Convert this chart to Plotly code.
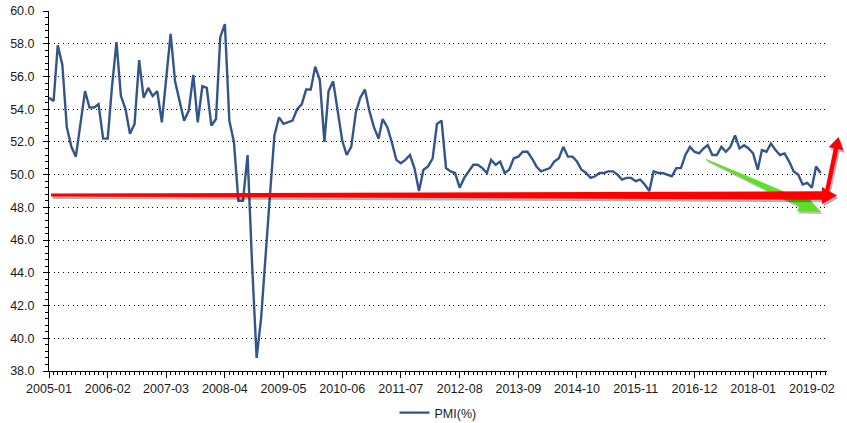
import math
import pandas as pd
import plotly.graph_objects as go

# ---------------- data (China manufacturing PMI, %) ----------------
pmi_2005 = [54.7, 54.5, 57.9, 56.7, 52.9, 51.7, 51.1, 53.1, 55.1, 54.1, 54.1, 54.3]
pmi_2006 = [52.2, 52.2, 55.3, 58.1, 54.8, 54.0, 52.5, 53.1, 57.0, 54.7, 55.3, 54.8]
pmi_2007 = [55.1, 53.2, 55.6, 58.6, 55.7, 54.5, 53.3, 53.9, 56.1, 53.2, 55.4, 55.3]
pmi_2008 = [53.0, 53.4, 58.4, 59.2, 53.3, 52.0, 48.4, 48.4, 51.2, 44.6, 38.8, 41.2]
pmi_2009 = [45.3, 49.0, 52.4, 53.5, 53.1, 53.2, 53.3, 54.0, 54.3, 55.2, 55.2, 56.6]
pmi_2010 = [55.8, 52.0, 55.1, 55.7, 53.9, 52.1, 51.2, 51.7, 53.8, 54.7, 55.2, 53.9]
pmi_2011 = [52.9, 52.2, 53.4, 52.9, 52.0, 50.9, 50.7, 50.9, 51.2, 50.4, 49.0, 50.3]
pmi_2012 = [50.5, 51.0, 53.1, 53.3, 50.4, 50.2, 50.1, 49.2, 49.8, 50.2, 50.6, 50.6]
pmi_2013 = [50.4, 50.1, 50.9, 50.6, 50.8, 50.1, 50.3, 51.0, 51.1, 51.4, 51.4, 51.0]
pmi_2014 = [50.5, 50.2, 50.3, 50.4, 50.8, 51.0, 51.7, 51.1, 51.1, 50.8, 50.3, 50.1]
pmi_2015 = [49.8, 49.9, 50.1, 50.1, 50.2, 50.2, 50.0, 49.7, 49.8, 49.8, 49.6, 49.7]
pmi_2016 = [49.4, 49.0, 50.2, 50.1, 50.1, 50.0, 49.9, 50.4, 50.4, 51.2, 51.7, 51.4]
pmi_2017 = [51.3, 51.6, 51.8, 51.2, 51.2, 51.7, 51.4, 51.7, 52.4, 51.6, 51.8, 51.6]
pmi_2018 = [51.3, 50.3, 51.5, 51.4, 51.9, 51.5, 51.2, 51.3, 50.8, 50.2, 50.0, 49.4]
pmi_2019 = [49.5, 49.2, 50.5, 50.1]

pmi = (pmi_2005 + pmi_2006 + pmi_2007 + pmi_2008 + pmi_2009 + pmi_2010 + pmi_2011
       + pmi_2012 + pmi_2013 + pmi_2014 + pmi_2015 + pmi_2016 + pmi_2017 + pmi_2018 + pmi_2019)
first_month = "2005-01-01"
months = pd.date_range(first_month, periods=len(pmi), freq="MS")
series_name = "PMI(%)"

# ---------------- layout geometry ----------------
W, H = 847, 423
M_L, M_R, M_T, M_B = 49, 20, 11, 52
PL, PR, PT, PB = M_L, W - M_R, M_T, H - M_B

FONT = "Liberation Sans, Arial, sans-serif"
LINE_COLOR = "#34558b"


def to_paper(x, y):
    return (x - PL) / (PR - PL), (PB - y) / (PB - PT)


def arrow_pts(x0, y0, x1, y1, w0, w1, head_len, head_w):
    dx, dy = x1 - x0, y1 - y0
    L = math.hypot(dx, dy)
    ux, uy = dx / L, dy / L
    nx, ny = -uy, ux
    bx, by = x1 - ux * head_len, y1 - uy * head_len
    return [
        (x0 + nx * w0, y0 + ny * w0),
        (bx + nx * w1, by + ny * w1),
        (bx + nx * head_w, by + ny * head_w),
        (x1, y1),
        (bx - nx * head_w, by - ny * head_w),
        (bx - nx * w1, by - ny * w1),
        (x0 - nx * w0, y0 - ny * w0),
    ]


def path_of(pts, ox=0.0, oy=0.0):
    segs = []
    for i, (x, y) in enumerate(pts):
        px, py = to_paper(x + ox, y + oy)
        segs.append(("M" if i == 0 else "L") + f"{px:.5f},{py:.5f}")
    return " ".join(segs) + " Z"


green_arrow = arrow_pts(706, 159.5, 821, 212, 0.6, 4.0, 22, 9.5)
red_h_arrow = arrow_pts(51, 195, 837, 195.5, 1.4, 4.2, 15, 8.5)
red_up_arrow = arrow_pts(826, 196, 838.5, 137, 2.0, 2.3, 12, 7.5)

shapes = []
shapes.append(dict(type="path", xref="paper", yref="paper", layer="above",
                   path=path_of(green_arrow, 1.5, 2), fillcolor="rgba(0,0,0,0.25)", line=dict(width=0)))
shapes.append(dict(type="path", xref="paper", yref="paper", layer="above",
                   path=path_of(green_arrow), fillcolor="#5fe026", line=dict(width=0)))
for pts in (red_h_arrow, red_up_arrow):
    shapes.append(dict(type="path", xref="paper", yref="paper", layer="above",
                       path=path_of(pts, 1.5, 2.5), fillcolor="rgba(0,0,0,0.3)", line=dict(width=0)))
for pts in (red_h_arrow, red_up_arrow):
    shapes.append(dict(type="path", xref="paper", yref="paper", layer="above",
                       path=path_of(pts), fillcolor="#ff0000", line=dict(width=0)))

fig = go.Figure()
fig.add_trace(go.Scatter(
    x=months, y=pmi, mode="lines", name=series_name,
    line=dict(color=LINE_COLOR, width=2.4),
    showlegend=True,
))

x_end = pd.Timestamp("2019-05-14")

fig.update_layout(
    width=W, height=H,
    margin=dict(l=M_L, r=M_R, t=M_T, b=M_B, pad=0, autoexpand=False),
    paper_bgcolor="white", plot_bgcolor="white",
    font=dict(family=FONT, size=12.5, color="#1a1a1a"),
    shapes=shapes,
    showlegend=True,
    legend=dict(orientation="h", x=0.5, xanchor="center", y=-0.075, yanchor="top",
                font=dict(family=FONT, size=12.5, color="#1a1a1a"),
                bgcolor="rgba(0,0,0,0)"),
    xaxis=dict(
        type="date", range=[first_month, x_end], automargin=False,
        tick0=first_month, dtick="M13", tickformat="%Y-%m",
        showgrid=False, zeroline=False,
        showline=True, linecolor="black", linewidth=1,
        ticks="outside", ticklen=6, tickcolor="black", tickwidth=1,
        minor=dict(dtick="M1", ticks="outside", ticklen=3, tickcolor="black", showgrid=False),
        tickfont=dict(family=FONT, size=12.5, color="#1a1a1a"),
    ),
    yaxis=dict(
        range=[38, 60], dtick=2, tick0=38, tickformat=".1f", automargin=False,
        showgrid=True, gridcolor="black", gridwidth=1, griddash="1px,3.7px",
        zeroline=False,
        showline=True, linecolor="black", linewidth=1,
        ticks="outside", ticklen=5, tickcolor="black", tickwidth=1,
        minor=dict(dtick=0.4, ticks="outside", ticklen=3, tickcolor="black", showgrid=False),
        tickfont=dict(family=FONT, size=12.5, color="#1a1a1a"),
        ticklabelstandoff=6,
    ),
)

fig.write_html("out.html", config={"displayModeBar": False},
               post_script="document.body.style.margin='0px';")
